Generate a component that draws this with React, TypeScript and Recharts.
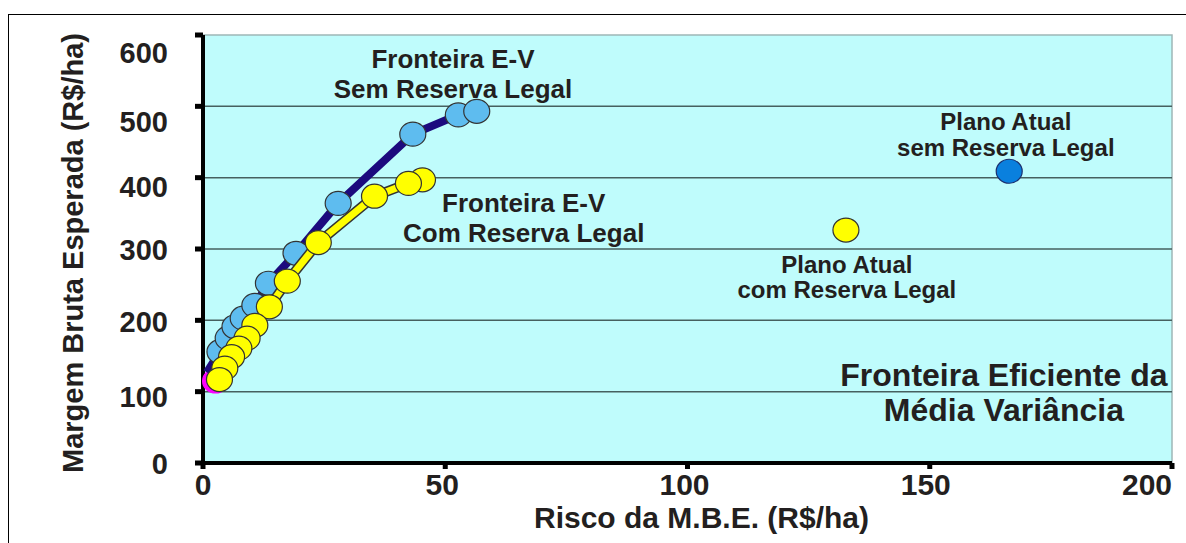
import React from "react";
import {
  ScatterChart,
  Scatter,
  XAxis,
  YAxis,
  ReferenceArea,
  ReferenceLine,
  ReferenceDot,
} from "recharts";

// ---- data ----
const xTicks = [0, 50, 100, 150, 200];
const yTicks = [0, 100, 200, 300, 400, 500, 600];
const gridValues = [100, 200, 300, 400, 500];

// Fronteira E-V sem Reserva Legal (risk, margin)
const semRLRisk = [0.8, 3.5, 5.2, 6.6, 8.3, 10.7, 13.5, 19.2, 27.9, 43.3, 52.7, 56.5];
const semRLMargin = [127, 156, 175, 191, 203, 221, 252, 294, 364, 461, 488, 493];
const semRLMarker = [false, true, true, true, true, true, true, true, true, true, true, true];

// Fronteira E-V com Reserva Legal
const comRLRisk = [45.3, 42.4, 35.4, 23.8, 17.4, 13.7, 10.7, 9.1, 7.4, 5.9, 4.5, 3.4];
const comRLMargin = [397, 392, 374, 309, 255, 219, 193, 175, 161, 149, 133, 117];

// Ponto de mínima variância
const minVarRisk = [2.6];
const minVarMargin = [115];

// Plano atual
const planoSemRisk = [166.4];
const planoSemMargin = [409];
const planoComRisk = [132.7];
const planoComMargin = [326.6];

// annotation anchors (data coords of first line's baseline centre)
const annotations = [
  { x: 51.6, y: 554, lines: ["Fronteira E-V", "Sem Reserva Legal"], size: 26, gap: 30 },
  { x: 66.2, y: 352, lines: ["Fronteira E-V", "Com Reserva Legal"], size: 26, gap: 30 },
  { x: 165.7, y: 467, lines: ["Plano Atual", "sem Reserva Legal"], size: 24, gap: 26 },
  { x: 132.9, y: 266.5, lines: ["Plano Atual", "com Reserva Legal"], size: 24, gap: 25 },
  { x: 165.3, y: 108, lines: ["Fronteira Eficiente da", "Média Variância"], size: 32, gap: 35 },
];

const zip = (xs: number[], ys: number[]) => xs.map((x, i) => ({ x, y: ys[i] }));
const semRLData = semRLRisk.map((x, i) => ({ x, y: semRLMargin[i], marker: semRLMarker[i] }));
const comRLData = zip(comRLRisk, comRLMargin);
const minVarData = zip(minVarRisk, minVarMargin);
const planoSemData = zip(planoSemRisk, planoSemMargin);
const planoComData = zip(planoComRisk, planoComMargin);

const FONT = '"Liberation Sans", Arial, sans-serif';
const TEXT = "#231f20";

const yTickShift: Record<number, number> = { 0: 11, 100: 15, 200: 12, 300: 11, 400: 19, 500: 26, 600: 28 };
const xTickShift: Record<number, number> = { 0: 0, 50: -3, 100: -3, 150: -4, 200: -25 };

const makeDot = (fill: string, stroke: string) => (p: any) => {
  if (p.payload && p.payload.marker === false) return <g />;
  return <ellipse cx={p.cx} cy={p.cy} rx={13} ry={12} fill={fill} stroke={stroke} strokeWidth={1.2} />;
};
const noDot = () => <g />;

const YTick = (p: any) => {
  const v = p.payload.value;
  return (
    <text x={p.x} y={p.y + (yTickShift[v] ?? 10)} textAnchor="end" fontFamily={FONT} fontWeight="bold" fontSize={29} fill={TEXT}>
      {v}
    </text>
  );
};
const XTick = (p: any) => {
  const v = p.payload.value;
  return (
    <text x={p.x + (xTickShift[v] ?? 0)} y={p.y} textAnchor="middle" fontFamily={FONT} fontWeight="bold" fontSize={30} fill={TEXT}>
      {v}
    </text>
  );
};

const YLabel = (p: any) => {
  const vb = p.viewBox;
  const x = vb.x + 83;
  const y = vb.y + vb.height / 2 + 4;
  return (
    <text x={x} y={y} transform={`rotate(-90, ${x}, ${y})`} textAnchor="middle" fontFamily={FONT} fontWeight="bold" fontSize={29} fill={TEXT}>
      Margem Bruta Esperada (R$/ha)
    </text>
  );
};
const XLabel = (p: any) => {
  const vb = p.viewBox;
  return (
    <text x={vb.x + vb.width / 2 + 14} y={vb.y + 65} textAnchor="middle" fontFamily={FONT} fontWeight="bold" fontSize={30} fill={TEXT}>
      Risco da M.B.E. (R$/ha)
    </text>
  );
};

const annotationShape = (a: (typeof annotations)[number]) => (p: any) => (
  <text textAnchor="middle" fontFamily={FONT} fontWeight="bold" fontSize={a.size} fill={TEXT}>
    {a.lines.map((l, i) => (
      <tspan key={i} x={p.cx} y={p.cy + i * a.gap}>
        {l}
      </tspan>
    ))}
  </text>
);

export default function App() {
  return (
    <div style={{ position: "absolute", left: 0, top: 0, width: 1186, height: 543, overflow: "hidden", background: "#fff" }}>
      <div
        style={{
          position: "absolute",
          left: 8,
          top: 14,
          width: 1200,
          height: 560,
          borderTop: "1.5px solid #000",
          borderLeft: "1.5px solid #000",
        }}
      />
      <div style={{ position: "absolute", left: 0, top: 0 }}>
        <ScatterChart width={1186} height={543} margin={{ top: 35, right: 14, bottom: 0, left: 0 }}>
          <ReferenceArea x1={0} x2={200} y1={0} y2={600} fill="#bffcfc" fillOpacity={1} stroke="#9fb7b7" strokeWidth={1.5} />
          {gridValues.map((g) => (
            <ReferenceLine key={g} y={g} stroke="#46605f" strokeWidth={1.5} />
          ))}
          <XAxis
            type="number"
            dataKey="x"
            domain={[0, 200]}
            ticks={xTicks}
            interval={0}
            axisLine={{ stroke: "#000", strokeWidth: 4 }}
            tickLine={{ stroke: "#000", strokeWidth: 5 }}
            tickSize={6}
            tickMargin={26}
            height={80}
            tick={<XTick />}
            label={{ content: <XLabel /> } as any}
          />
          <YAxis
            type="number"
            dataKey="y"
            domain={[0, 600]}
            ticks={yTicks}
            interval={0}
            axisLine={{ stroke: "#000", strokeWidth: 4 }}
            tickLine={{ stroke: "#000", strokeWidth: 5 }}
            tickSize={8}
            tickMargin={27}
            width={203}
            tick={<YTick />}
            label={{ content: <YLabel /> } as any}
          />
          <Scatter data={minVarData} fill="#ff00ff" shape={makeDot("#ff00ff", "#ff00ff")} isAnimationActive={false} />
          <Scatter
            data={semRLData}
            line={{ stroke: "#1c0a7e", strokeWidth: 8 }}
            lineType="joint"
            shape={makeDot("#5ebcef", "#333")}
            isAnimationActive={false}
          />
          <Scatter data={comRLData} line={{ stroke: "#333", strokeWidth: 10 }} lineType="joint" shape={noDot} isAnimationActive={false} />
          <Scatter
            data={comRLData}
            line={{ stroke: "#ffff00", strokeWidth: 7 }}
            lineType="joint"
            shape={makeDot("#ffff00", "#333")}
            isAnimationActive={false}
          />
          <Scatter data={planoComData} shape={makeDot("#ffff00", "#333")} isAnimationActive={false} />
          <Scatter data={planoSemData} shape={makeDot("#0a80de", "#1c2f6e")} isAnimationActive={false} />
          {annotations.map((a, i) => (
            <ReferenceDot key={i} x={a.x} y={a.y} r={0} ifOverflow="visible" shape={annotationShape(a)} />
          ))}
        </ScatterChart>
      </div>
    </div>
  );
}
